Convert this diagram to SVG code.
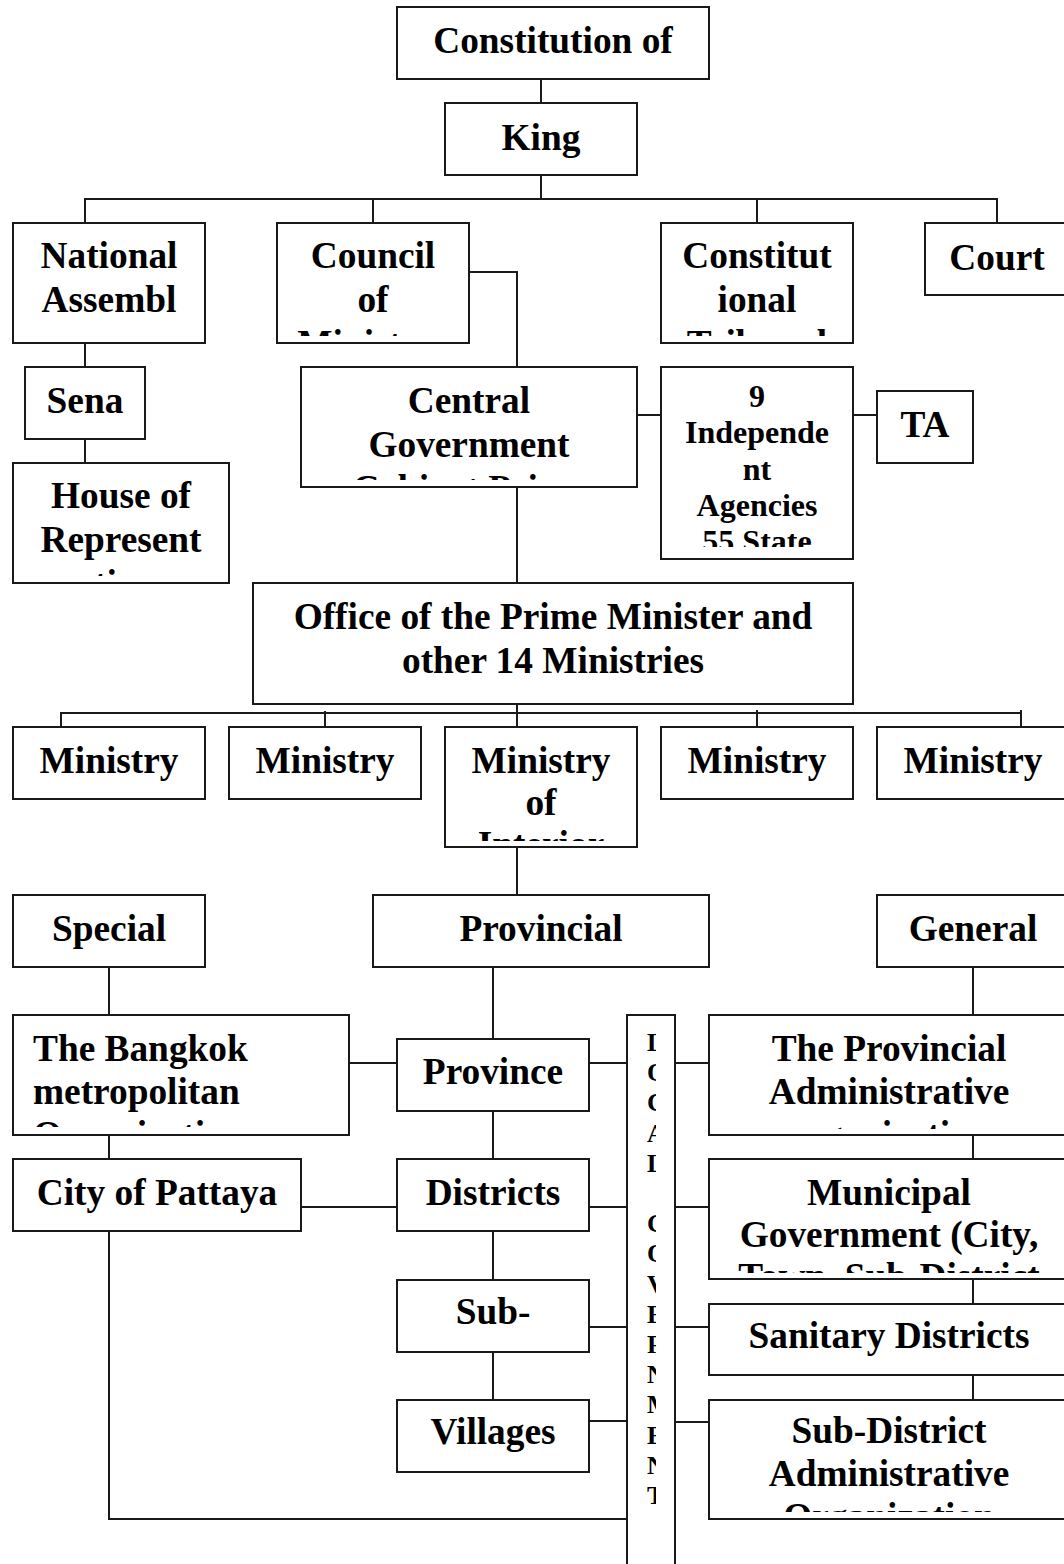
<svg xmlns="http://www.w3.org/2000/svg" width="1064" height="1564" viewBox="0 0 1064 1564">
<style>
.box{fill:#fff;stroke:#1a1a1a;stroke-width:2}
.t{font-family:"Liberation Serif","Times New Roman",serif;font-weight:bold;font-size:37.33px;fill:#000;text-anchor:middle}
.s32{font-size:32px}
.lt{text-anchor:start}
.v{font-size:26px;text-anchor:start}
.conn{stroke:#1a1a1a;stroke-width:2;fill:none}
</style>
<defs>
<clipPath id="cCouncil"><rect x="278" y="224" width="190" height="112"/></clipPath>
<clipPath id="cConst"><rect x="662" y="224" width="190" height="112"/></clipPath>
<clipPath id="cHouse"><rect x="14" y="464" width="214" height="112"/></clipPath>
<clipPath id="cCentral"><rect x="302" y="368" width="334" height="112"/></clipPath>
<clipPath id="cIndep"><rect x="662" y="368" width="190" height="179"/></clipPath>
<clipPath id="cInterior"><rect x="446" y="728" width="190" height="113"/></clipPath>
<clipPath id="cBangkok"><rect x="14" y="1016" width="334" height="111"/></clipPath>
<clipPath id="cProvAdm"><rect x="710" y="1016" width="358" height="113"/></clipPath>
<clipPath id="cMunic"><rect x="710" y="1160" width="358" height="113"/></clipPath>
<clipPath id="cSubAdm"><rect x="710" y="1401" width="358" height="111"/></clipPath>
<clipPath id="cLocal"><rect x="629" y="1016" width="27" height="548"/></clipPath>
</defs>

<g id="connectors" class="conn">
<path d="M541 79V103"/>
<path d="M541 175V199"/>
<path d="M85 223V199H997V223"/>
<path d="M373 199V223"/>
<path d="M757 199V223"/>
<path d="M85 343V367"/>
<path d="M85 439V463"/>
<path d="M469 272H517V367"/>
<path d="M637 415H661"/>
<path d="M853 415H877"/>
<path d="M517 487V583"/>
<path d="M517 704V727"/>
<path d="M61 727V713H1021V727"/>
<path d="M1021 713V710"/>
<path d="M325 711V727"/>
<path d="M757 710V727"/>
<path d="M517 847V895"/>
<path d="M109 967V1015"/>
<path d="M493 967V1039"/>
<path d="M973 967V1015"/>
<path d="M349 1063H397"/>
<path d="M589 1063H627"/>
<path d="M675 1063H709"/>
<path d="M109 1135V1159"/>
<path d="M301 1207H397"/>
<path d="M493 1111V1159"/>
<path d="M493 1231V1280"/>
<path d="M493 1352V1400"/>
<path d="M589 1207H627"/>
<path d="M675 1207H709"/>
<path d="M589 1327H627"/>
<path d="M675 1327H709"/>
<path d="M589 1421H627"/>
<path d="M675 1422H709"/>
<path d="M109 1231V1519H627"/>
<path d="M973 1135V1159"/>
<path d="M973 1279V1304"/>
<path d="M973 1375V1400"/>
</g>

<g id="constitution"><rect class="box" x="397" y="7" width="312" height="72"/><text class="t" x="553" y="53">Constitution of</text></g>
<g id="king"><rect class="box" x="445" y="103" width="192" height="72"/><text class="t" x="541" y="150">King</text></g>
<g id="national-assembly"><rect class="box" x="13" y="223" width="192" height="120"/><text class="t" x="109" y="268">National<tspan x="109" dy="44">Assembl</tspan></text></g>
<g id="council"><rect class="box" x="277" y="223" width="192" height="120"/><text class="t" x="373" y="268" clip-path="url(#cCouncil)">Council<tspan x="373" dy="44">of</tspan><tspan x="373" dy="44">Ministers</tspan></text></g>
<g id="constitutional-tribunal"><rect class="box" x="661" y="223" width="192" height="120"/><text class="t" x="757" y="268" clip-path="url(#cConst)">Constitut<tspan x="757" dy="44">ional</tspan><tspan x="757" dy="44">Tribunal</tspan></text></g>
<g id="court"><rect class="box" x="925" y="223" width="144" height="72"/><text class="t" x="997" y="270">Court</text></g>
<g id="senate"><rect class="box" x="25" y="367" width="120" height="72"/><text class="t" x="85" y="413">Sena</text></g>
<g id="house"><rect class="box" x="13" y="463" width="216" height="120"/><text class="t" x="121" y="508" clip-path="url(#cHouse)">House of<tspan x="121" dy="44">Represent</tspan><tspan x="121" dy="44">atives</tspan></text></g>
<g id="central-government"><rect class="box" x="301" y="367" width="336" height="120"/><text class="t" x="469" y="413" clip-path="url(#cCentral)">Central<tspan x="469" dy="44">Government</tspan><tspan x="469" dy="44">Cabinet Prime</tspan></text></g>
<g id="independent-agencies"><rect class="box" x="661" y="367" width="192" height="192"/><text class="t s32" x="757" y="407" clip-path="url(#cIndep)">9<tspan x="757" dy="36.3">Independe</tspan><tspan x="757" dy="36.3">nt</tspan><tspan x="757" dy="36.3">Agencies</tspan><tspan x="757" dy="36.3">55 State</tspan></text></g>
<g id="ta"><rect class="box" x="877" y="391" width="96" height="72"/><text class="t" x="925" y="437">TA</text></g>
<g id="office-pm"><rect class="box" x="253" y="583" width="600" height="121"/><text class="t" x="553" y="629">Office of the Prime Minister and<tspan x="553" dy="44">other 14 Ministries</tspan></text></g>
<g id="ministry-1"><rect class="box" x="13" y="727" width="192" height="72"/><text class="t" x="109" y="773">Ministry</text></g>
<g id="ministry-2"><rect class="box" x="229" y="727" width="192" height="72"/><text class="t" x="325" y="773">Ministry</text></g>
<g id="ministry-interior"><rect class="box" x="445" y="727" width="192" height="120"/><text class="t" x="541" y="773" clip-path="url(#cInterior)">Ministry<tspan x="541" dy="42">of</tspan><tspan x="541" dy="42">Interior</tspan></text></g>
<g id="ministry-4"><rect class="box" x="661" y="727" width="192" height="72"/><text class="t" x="757" y="773">Ministry</text></g>
<g id="ministry-5"><rect class="box" x="877" y="727" width="192" height="72"/><text class="t" x="973" y="773">Ministry</text></g>
<g id="special"><rect class="box" x="13" y="895" width="192" height="72"/><text class="t" x="109" y="941">Special</text></g>
<g id="provincial"><rect class="box" x="373" y="895" width="336" height="72"/><text class="t" x="541" y="941">Provincial</text></g>
<g id="general"><rect class="box" x="877" y="895" width="192" height="72"/><text class="t" x="973" y="941">General</text></g>
<g id="bangkok"><rect class="box" x="13" y="1015" width="336" height="120"/><text class="t lt" x="33" y="1061" clip-path="url(#cBangkok)">The Bangkok<tspan x="33" dy="43">metropolitan</tspan><tspan x="33" dy="43">Organization</tspan></text></g>
<g id="pattaya"><rect class="box" x="13" y="1159" width="288" height="72"/><text class="t" x="157" y="1205">City of Pattaya</text></g>
<g id="province"><rect class="box" x="397" y="1039" width="192" height="72"/><text class="t" x="493" y="1084">Province</text></g>
<g id="districts"><rect class="box" x="397" y="1159" width="192" height="72"/><text class="t" x="493" y="1205">Districts</text></g>
<g id="sub-districts"><rect class="box" x="397" y="1280" width="192" height="72"/><text class="t" x="493" y="1324">Sub-</text></g>
<g id="villages"><rect class="box" x="397" y="1400" width="192" height="72"/><text class="t" x="493" y="1444">Villages</text></g>
<g id="local-government"><rect class="box" x="627" y="1015" width="48" height="570"/><text class="t v" x="647" y="1051" clip-path="url(#cLocal)">L<tspan x="647" dy="30.2">O</tspan><tspan x="647" dy="30.2">C</tspan><tspan x="647" dy="30.2">A</tspan><tspan x="647" dy="30.2">L</tspan><tspan x="647" dy="60.4">G</tspan><tspan x="647" dy="30.2">O</tspan><tspan x="647" dy="30.2">V</tspan><tspan x="647" dy="30.2">E</tspan><tspan x="647" dy="30.2">R</tspan><tspan x="647" dy="30.2">N</tspan><tspan x="647" dy="30.2">M</tspan><tspan x="647" dy="30.2">E</tspan><tspan x="647" dy="30.2">N</tspan><tspan x="647" dy="30.2">T</tspan></text></g>
<g id="provincial-admin"><rect class="box" x="709" y="1015" width="360" height="120"/><text class="t" x="889" y="1061" clip-path="url(#cProvAdm)">The Provincial<tspan x="889" dy="43">Administrative</tspan><tspan x="889" dy="43">organization</tspan></text></g>
<g id="municipal"><rect class="box" x="709" y="1159" width="360" height="120"/><text class="t" x="889" y="1205" clip-path="url(#cMunic)">Municipal<tspan x="889" dy="42">Government (City,</tspan><tspan x="889" dy="42">Town, Sub-District</tspan></text></g>
<g id="sanitary"><rect class="box" x="709" y="1304" width="360" height="71"/><text class="t" x="889" y="1348">Sanitary Districts</text></g>
<g id="sub-district-admin"><rect class="box" x="709" y="1400" width="360" height="119"/><text class="t" x="889" y="1443" clip-path="url(#cSubAdm)">Sub-District<tspan x="889" dy="43">Administrative</tspan><tspan x="889" dy="43">Organization</tspan></text></g>
</svg>
